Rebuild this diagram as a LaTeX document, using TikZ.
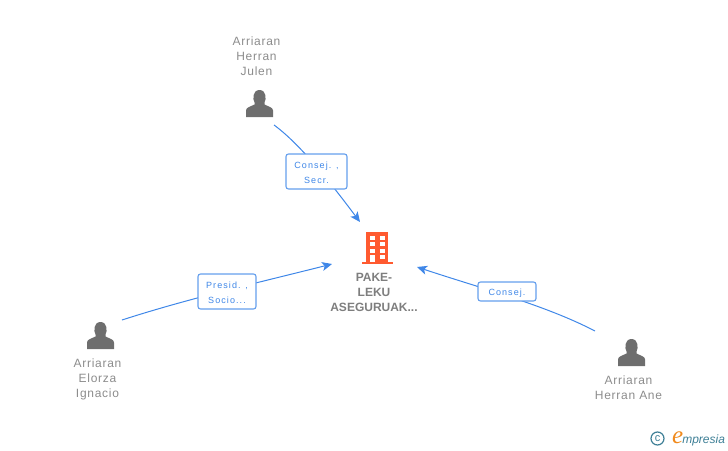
\documentclass[tikz,border=0pt]{standalone}
\usepackage{fontspec}
\usetikzlibrary{arrows.meta}
\setmainfont{Liberation Sans}
\newfontfamily\namefont[LetterSpace=6]{Liberation Sans}
\newfontfamily\rolefont[LetterSpace=12]{Liberation Sans}
\newfontfamily\logofont{Liberation Serif}
\definecolor{linkblue}{HTML}{3F87E8}
\definecolor{personfill}{HTML}{6E6E6E}
\definecolor{namegray}{HTML}{8C8C8C}
\definecolor{orangered}{HTML}{FF5A30}
\definecolor{logoteal}{HTML}{3E7F96}
\definecolor{logoorange}{HTML}{F08A1D}
\tikzset{
    >={Stealth[length=10pt,width=9pt,inset=2.5pt]},
    link/.style={draw=linkblue, line width=1pt},
    personname/.style={text=namegray, align=center, font=\namefont\fontsize{12}{15}\selectfont, inner sep=0pt},
    firmname/.style={text=namegray!90!black, align=center, font=\bfseries\fontsize{12}{15}\selectfont, inner sep=0pt},
    role/.style={draw=linkblue!80, line width=1.1pt, fill=white, rounded corners=2.5pt, text=linkblue,
        align=center, font=\rolefont\fontsize{9}{15}\selectfont, inner sep=0pt, text depth=0pt},
    person/.pic={
        \fill[personfill] (-13.5,13.5) -- (-13.5,7) .. controls (-13.5,4) and (-10,3.5) .. (-5,1)
            -- (-5,-1) .. controls (-7,-4) and (-7,-13.5) .. (0,-13.5)
            .. controls (7,-13.5) and (7,-4) .. (5,-1) -- (5,1)
            .. controls (10,3.5) and (13.5,4) .. (13.5,7) -- (13.5,13.5) -- cycle;
    }
}
\begin{document}
\begin{tikzpicture}[x=1pt, y=-1pt]
    \useasboundingbox (0,0) rectangle (728,450);

    % people
    \pic at (259.5,103.5) {person};
    \pic at (100.5,335.5) {person};
    \pic at (631.5,352.5) {person};
    \node[personname] (julen) at (256.5,56) {Arriaran\\Herran\\Julen};
    \node[personname] (ignacio) at (97.5,379) {Arriaran\\Elorza\\Ignacio};
    \node[personname] (ane) at (628.5,387.5) {Arriaran\\Herran Ane};

    % building
    \fill[orangered] (366,232) rectangle (388,263);
    \fill[orangered] (362,262) rectangle (393,264);
    \foreach \x in {370,380} {
        \foreach \y in {235.5,242,248.5} {
            \fill[white] (\x,\y) rectangle +(4.5,4);
        }
    }
    \fill[white] (370,255) rectangle +(4.5,7);
    \fill[white] (380,255) rectangle +(4.5,4);
    \node[firmname] (pake) at (374,292) {PAKE-\\LEKU\\ASEGURUAK...};

    % connectors
    \coordinate (julenOut) at (274,125);
    \coordinate (julenIn) at (360,222);
    \coordinate (ignacioOut) at (122,320);
    \coordinate (ignacioIn) at (332,264);
    \coordinate (aneOut) at (595,331);
    \coordinate (aneIn) at (417,267);
    \draw[link,->] (julenOut) .. controls (300,144) and (330,182) .. (julenIn);
    \draw[link,->] (ignacioOut) .. controls (190,298) and (265,281) .. (ignacioIn);
    \draw[link,->] (aneOut) .. controls (545,305) and (480,288) .. (aneIn);

    % labels
    \node[role, minimum width=61pt, minimum height=35pt, text height=24.5pt] (consejsecr) at (316.5,171.5) {Consej. ,\\Secr.};
    \node[role, minimum width=58pt, minimum height=35pt, text height=24.5pt] (presid) at (227,291.5) {Presid. ,\\Socio...};
    \node[role, minimum width=58pt, minimum height=19pt, text height=8.5pt] (consej) at (507,291.5) {Consej.};

    % logo
    \node[draw=logoteal, circle, line width=1.2pt, minimum size=13pt, inner sep=0pt, text=logoteal,
        font=\fontsize{11}{11}\selectfont] (copy) at (657.5,438.5) {c};
    \node[inner sep=0pt, anchor=base west] (empresia) at (672,443) {\textcolor{logoorange}{\logofont\itshape\fontsize{25}{25}\selectfont e}\hspace{-1pt}\textcolor{logoteal}{\itshape\fontsize{12}{12}\selectfont mpresia}};
\end{tikzpicture}
\end{document}
